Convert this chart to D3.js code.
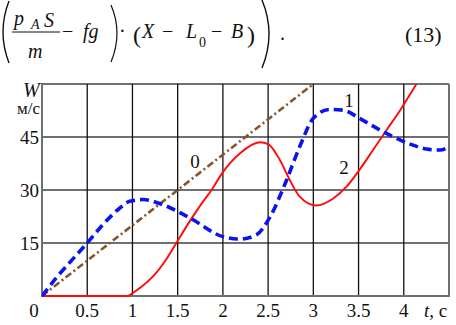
<!DOCTYPE html>
<html>
<head>
<meta charset="utf-8">
<script src="https://cdn.jsdelivr.net/npm/d3@7"></script>
</head>
<body style="margin:0">
<script>
// tick values
var xTicks = [0, 0.5, 1, 1.5, 2, 2.5, 3, 3.5, 4];
var xTickLabels = ['0', '0.5', '1', '1.5', '2', '2.5', '3', '3.5', '4'];
var yTicks = [15, 30, 45];

// curve 0 (straight line)
var t0 = [0, 0.5, 1, 1.5, 2, 2.5, 3];
var w0 = [0, 10, 20, 30, 40, 50, 60];

// curve 1 (blue dashed)
var t1 = [0, 0.16, 0.31, 0.5, 0.68, 0.83, 0.97, 1.12, 1.34, 1.64, 2.0, 2.19, 2.37, 2.52, 2.69, 2.85, 3.0, 3.18, 3.33, 3.51, 3.7, 3.88, 4.07, 4.25, 4.4, 4.5];
var w1 = [0, 5.2, 9.6, 15, 20.4, 24.2, 26.8, 27.3, 25.8, 22, 16.8, 16.1, 17.3, 22.3, 31.9, 42.3, 50.3, 52.8, 52.6, 50.3, 47.5, 45.1, 43, 41.6, 41.3, 42.3];

// curve 2 (red)
var t2 = [0, 0.95, 1.0, 1.1, 1.23, 1.38, 1.49, 1.64, 1.78, 1.875, 1.99, 2.19, 2.41, 2.5, 2.63, 2.74, 2.85, 3.03, 3.22, 3.37, 3.51, 3.66, 3.81, 3.96, 4.14];
var w2 = [0, 0, 0.8, 2.6, 5.6, 10.6, 15.2, 21.4, 26.7, 30, 34.7, 40.4, 43.5, 43, 38.5, 32.8, 28.1, 25.6, 27.6, 31, 35.7, 41.3, 47, 52.6, 60];

var width = 456, height = 325;
var margin = {left: 42, right: 7, top: 84, bottom: 29};

var svg = d3.select('body').append('svg')
    .attr('width', width)
    .attr('height', height);

var x = d3.scaleLinear().domain([0, 4.5]).range([margin.left, width - margin.right]);
var y = d3.scaleLinear().domain([0, 60]).range([height - margin.bottom, margin.top]);

// text helper
function txt(g, str, px, py, size, italic) {
    var el = g.append('text').attr('x', px).attr('y', py)
        .style('font-family', "'Liberation Serif'")
        .style('font-size', size + 'px')
        .style('font-style', italic ? 'italic' : 'normal')
        .style('fill', '#111')
        .text(str);
    el.node().getComputedTextLength();
    return el;
}

// ---- formula at the top ----
var eq = svg.append('g');
eq.append('path').attr('d', 'M9,1 Q-3,32 9,63').attr('fill', 'none').attr('stroke', '#111').attr('stroke-width', 1.4);
txt(eq, 'p', 14, 25, 20, true);
txt(eq, 'A', 31, 29, 14, true);
txt(eq, 'S', 44, 27, 20, true);
eq.append('line').attr('x1', 12).attr('x2', 60).attr('y1', 32).attr('y2', 32).attr('stroke', '#111').attr('stroke-width', 1);
txt(eq, 'm', 28, 58, 20, true);
txt(eq, '\u2212', 62, 38, 20, false);
txt(eq, 'fg', 83, 38, 20, true);
eq.append('path').attr('d', 'M111,5 Q123,33 111,62').attr('fill', 'none').attr('stroke', '#111').attr('stroke-width', 1.2);
txt(eq, '\u00b7', 119, 38, 20, false);
txt(eq, '(', 133, 43, 24, false);
txt(eq, 'X', 142, 38, 20, true);
txt(eq, '\u2212', 162, 38, 20, false);
txt(eq, 'L', 186, 38, 20, true);
txt(eq, '0', 199, 47, 14, false);
txt(eq, '\u2212', 211, 38, 20, false);
txt(eq, 'B', 231, 38, 20, true);
txt(eq, ')', 247, 43, 24, false);
eq.append('path').attr('d', 'M262,0 Q276,34 262,68').attr('fill', 'none').attr('stroke', '#111').attr('stroke-width', 1.4);
txt(eq, '.', 280, 40, 20, false);
txt(eq, '(13)', 405, 42, 22, false);

// ---- grid ----
var grid = svg.append('g');
grid.selectAll('line.h')
    .data(yTicks.concat([60]))
    .enter()
    .append('line')
    .attr('x1', x(0)).attr('x2', x(4.5))
    .attr('y1', function(d) { return y(d); })
    .attr('y2', function(d) { return y(d); })
    .attr('stroke', '#707070')
    .attr('stroke-width', 2);
grid.selectAll('line.v')
    .data(xTicks.slice(1))
    .enter()
    .append('line')
    .attr('x1', function(d) { return x(d); })
    .attr('x2', function(d) { return x(d); })
    .attr('y1', y(0)).attr('y2', y(60))
    .attr('stroke', '#111')
    .attr('stroke-width', 1.3);
// frame
grid.append('line').attr('x1', x(4.5)).attr('x2', x(4.5)).attr('y1', y(0)).attr('y2', y(60)).attr('stroke', '#707070').attr('stroke-width', 2);
grid.append('line').attr('x1', x(0)).attr('x2', x(0)).attr('y1', y(0) + 1).attr('y2', y(60) - 1).attr('stroke', '#707070').attr('stroke-width', 2);
grid.append('line').attr('x1', x(0) - 1).attr('x2', x(4.5) + 1).attr('y1', y(0)).attr('y2', y(0)).attr('stroke', '#707070').attr('stroke-width', 2);

// ---- axis labels ----
var labels = svg.append('g');
yTicks.forEach(function(d) {
    txt(labels, d, 39, y(d), 19, false).attr('dy', '0.35em').attr('text-anchor', 'end');
});
xTicks.forEach(function(d, i) {
    txt(labels, xTickLabels[i], i === 0 ? 34 : x(d), 317, 19, false).attr('text-anchor', 'middle');
});

txt(labels, 'W', 23, 97, 20, true);
txt(labels, 'м/с', 17, 114, 17, false);
var tl = txt(labels, '', 424, 317, 19, false);
tl.append('tspan').style('font-style', 'italic').text('t');
tl.append('tspan').text(', c');

// ---- curves ----
svg.append('clipPath').attr('id', 'plotclip')
    .append('rect').attr('x', x(0)).attr('y', y(60) - 1).attr('width', x(4.5) - x(0)).attr('height', y(0) - y(60) + 2);

var plot = svg.append('g').attr('clip-path', 'url(#plotclip)');

function pts(ts, ws) { return ts.map(function(d, i) { return [d, ws[i]]; }); }

var lineLin = d3.line().x(function(d) { return x(d[0]); }).y(function(d) { return y(d[1]); });
var lineSmooth = d3.line().x(function(d) { return x(d[0]); }).y(function(d) { return y(d[1]); }).curve(d3.curveMonotoneX);

plot.append('path')
    .attr('d', lineLin(pts(t0, w0)))
    .attr('fill', 'none')
    .attr('stroke', '#85562a')
    .attr('stroke-width', 2.6)
    .attr('stroke-dasharray', '7,3,2,3');

plot.append('path')
    .attr('d', lineSmooth(pts(t2, w2)))
    .attr('fill', 'none')
    .attr('stroke', '#ff0a0a')
    .attr('stroke-width', 1.9);

plot.append('path')
    .attr('d', lineSmooth(pts(t1, w1)))
    .attr('fill', 'none')
    .attr('stroke', '#0a14f0')
    .attr('stroke-width', 3.6)
    .attr('stroke-dasharray', '9,5');

// curve numbers
var nums = svg.append('g');
txt(nums, '0', 195, 168, 19, false).attr('text-anchor', 'middle');
txt(nums, '1', 349, 107, 19, false).attr('text-anchor', 'middle');
txt(nums, '2', 344, 174, 19, false).attr('text-anchor', 'middle');
</script>
</body>
</html>
